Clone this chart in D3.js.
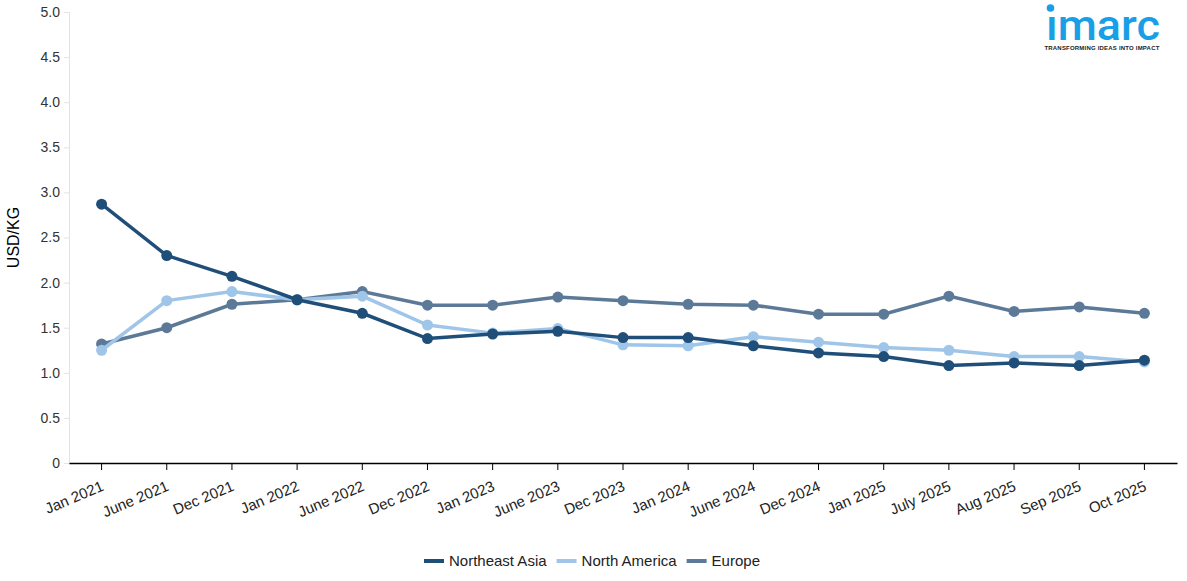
<!DOCTYPE html>
<html>
<head>
<meta charset="utf-8">
<script src="https://cdn.jsdelivr.net/npm/d3@7"></script>
<style>
  body { margin: 0; background: #fff; font-family: "Liberation Sans", Arial, sans-serif; }
</style>
</head>
<body>
<div id="chart"></div>
<script>
var svgWidth = 1187;
var svgHeight = 581;

var categories = ["Jan 2021", "June 2021", "Dec 2021", "Jan 2022", "June 2022", "Dec 2022", "Jan 2023", "June 2023",
  "Dec 2023", "Jan 2024", "June 2024", "Dec 2024", "Jan 2025", "July 2025", "Aug 2025", "Sep 2025", "Oct 2025"];

var northeastAsia = [2.87, 2.30, 2.07, 1.81, 1.66, 1.38, 1.43, 1.46, 1.39, 1.39, 1.30, 1.22, 1.18, 1.08, 1.11, 1.08, 1.14];
var northAmerica = [1.25, 1.80, 1.90, 1.81, 1.85, 1.53, 1.44, 1.49, 1.31, 1.30, 1.40, 1.34, 1.28, 1.25, 1.18, 1.18, 1.12];
var europe = [1.32, 1.50, 1.76, 1.81, 1.90, 1.75, 1.75, 1.84, 1.80, 1.76, 1.75, 1.65, 1.65, 1.85, 1.68, 1.73, 1.66];

var yTicks = [0, 0.5, 1.0, 1.5, 2.0, 2.5, 3.0, 3.5, 4.0, 4.5, 5.0];

var series = [
  { name: "Europe", values: europe, color: "#5c7a97" },
  { name: "North America", values: northAmerica, color: "#9fc5e8" },
  { name: "Northeast Asia", values: northeastAsia, color: "#1f4e79" }
];
var legendOrder = ["Northeast Asia", "North America", "Europe"];

var margin = { top: 12, right: 10, bottom: 118, left: 69 };
var width = svgWidth - margin.left - margin.right;
var height = svgHeight - margin.top - margin.bottom;

var svg = d3.select("#chart")
  .append("svg")
  .attr("width", svgWidth)
  .attr("height", svgHeight);

var chartGroup = svg.append("g")
  .attr("transform", `translate(${margin.left}, ${margin.top})`);

var xScale = d3.scaleBand()
  .domain(categories)
  .range([0, width]);

var yScale = d3.scaleLinear()
  .domain([0, 5])
  .range([height, 0]);

// y axis (light gray)
var yAxis = chartGroup.append("g")
  .call(d3.axisLeft(yScale)
    .tickValues(yTicks)
    .tickSize(5)
    .tickPadding(4)
    .tickFormat(d => d === 0 ? "0" : d3.format(".1f")(d)));
yAxis.select(".domain").attr("stroke", "#e3e3e3");
yAxis.selectAll(".tick line").attr("stroke", "#e3e3e3");
yAxis.selectAll(".tick text")
  .style("font-size", "14px")
  .style("font-family", "Liberation Sans, Arial, sans-serif")
  .attr("fill", "#333");

// x axis
var xAxis = chartGroup.append("g")
  .attr("transform", `translate(0, ${height})`)
  .call(d3.axisBottom(xScale).tickSize(7).tickSizeOuter(0));
xAxis.select(".domain").attr("stroke", "#000").attr("stroke-width", 1.5);
xAxis.selectAll(".tick line").attr("stroke", "#000");
xAxis.selectAll(".tick text")
  .style("font-size", "15px")
  .style("font-family", "Liberation Sans, Arial, sans-serif")
  .attr("fill", "#222")
  .attr("text-anchor", "end")
  .attr("y", 0)
  .attr("dy", 0)
  .attr("transform", "translate(3, 27) rotate(-23)");

// y label
chartGroup.append("text")
  .attr("transform", "rotate(-90)")
  .attr("x", -height / 2)
  .attr("y", -50)
  .attr("text-anchor", "middle")
  .style("font-size", "16px")
  .attr("fill", "#000")
  .text("USD/KG");

var line = d3.line()
  .x((d, i) => xScale(categories[i]) + xScale.bandwidth() / 2)
  .y(d => yScale(d));

series.forEach(function(s) {
  chartGroup.append("path")
    .datum(s.values)
    .attr("fill", "none")
    .attr("stroke", s.color)
    .attr("stroke-width", 3.5)
    .attr("d", line);
  chartGroup.selectAll(null)
    .data(s.values)
    .enter()
    .append("circle")
    .attr("cx", (d, i) => xScale(categories[i]) + xScale.bandwidth() / 2)
    .attr("cy", d => yScale(d))
    .attr("r", 5.5)
    .attr("fill", s.color);
});

// legend
var legend = svg.append("g").attr("transform", "translate(0, 561)");
var lx = 424;
legendOrder.forEach(function(name) {
  var s = series.find(d => d.name === name);
  legend.append("line")
    .attr("x1", lx).attr("x2", lx + 20)
    .attr("y1", 0).attr("y2", 0)
    .attr("stroke", s.color)
    .attr("stroke-width", 4);
  var t = legend.append("text")
    .attr("x", lx + 25)
    .attr("y", 5)
    .style("font-size", "15px")
    .attr("fill", "#222")
    .text(name);
  lx += 25 + t.node().getComputedTextLength() + 10;
});

// logo
var logo = svg.append("g").attr("transform", "translate(1045, 0)");
logo.append("text")
  .attr("x", 1)
  .attr("y", 40)
  .attr("textLength", 114)
  .attr("lengthAdjust", "spacingAndGlyphs")
  .style("font-family", "Roboto, 'Liberation Sans', sans-serif")
  .style("font-size", "42px")
  .style("font-weight", "500")
  .attr("fill", "#1a9fe6")
  .text("ımarc");
logo.append("circle")
  .attr("cx", 5.5).attr("cy", 8)
  .attr("r", 3.8)
  .attr("fill", "#1a9fe6");
logo.append("text")
  .attr("x", 57)
  .attr("y", 50)
  .attr("text-anchor", "middle")
  .style("font-size", "6px")
  .style("font-weight", "bold")
  .style("letter-spacing", "0.2px")
  .attr("fill", "#222")
  .text("TRANSFORMING IDEAS INTO IMPACT");
</script>
</body>
</html>
